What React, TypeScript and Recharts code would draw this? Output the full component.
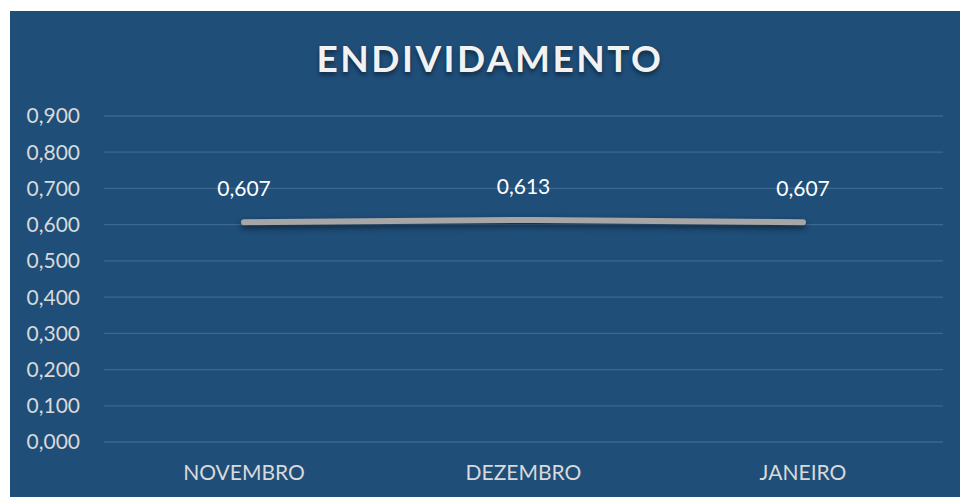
import { LineChart, Line, XAxis, YAxis, CartesianGrid, LabelList } from 'recharts'

const months = ['NOVEMBRO', 'DEZEMBRO', 'JANEIRO']
const endividamento = [0.607, 0.613, 0.607]
const yTicks = [0, 0.1, 0.2, 0.3, 0.4, 0.5, 0.6, 0.7, 0.8, 0.9]

const data = months.map((m, i) => ({ mes: m, valor: endividamento[i] }))

const fmt = (v: number) => v.toFixed(3).replace('.', ',')

export default function App() {
  return (
    <div
      style={{
        position: 'absolute',
        left: 10,
        top: 11,
        width: 950,
        height: 486,
        background: '#1F4E79',
        fontFamily: 'Lato, sans-serif',
      }}
    >
      <style>{`.recharts-line-curve { filter: drop-shadow(0px 3px 3px rgba(0,0,0,0.55)); }`}</style>
      <div
        style={{
          position: 'absolute',
          left: 0,
          right: 0,
          top: 24,
          textAlign: 'center',
          color: '#F2F2F2',
          fontSize: 37,
          fontWeight: 700,
          letterSpacing: 2.5,
          textShadow: '0px 3px 4px rgba(0,0,0,0.45)',
          paddingLeft: 10,
        }}
      >
        ENDIVIDAMENTO
      </div>
      <LineChart
        width={950}
        height={486}
        data={data}
        margin={{ top: 105, right: 17, left: 0, bottom: 25 }}
      >
        <CartesianGrid vertical={false} stroke="#3D6892" strokeWidth={1.3} />
        <XAxis
          dataKey="mes"
          axisLine={false}
          tickLine={false}
          tickSize={0}
          tickMargin={23}
          height={30}
          padding={{ left: 140, right: 140 }}
          tick={{ fill: '#D9D9D9', fontSize: 21 }}
        />
        <YAxis
          domain={[0, 0.9]}
          ticks={yTicks}
          tickFormatter={fmt}
          axisLine={false}
          tickLine={false}
          tickSize={0}
          tickMargin={24}
          width={94}
          tick={{ fill: '#D9D9D9', fontSize: 21 }}
        />
        <Line
          dataKey="valor"
          type="monotone"
          stroke="#A6A6A6"
          strokeWidth={6}
          strokeLinecap="round"
          dot={false}
          activeDot={false}
          isAnimationActive={false}
        >
          <LabelList dataKey="valor" position="top" offset={26} formatter={(v: any) => fmt(Number(v))} fill="#FFFFFF" fontSize={21} />
        </Line>
      </LineChart>
    </div>
  )
}
